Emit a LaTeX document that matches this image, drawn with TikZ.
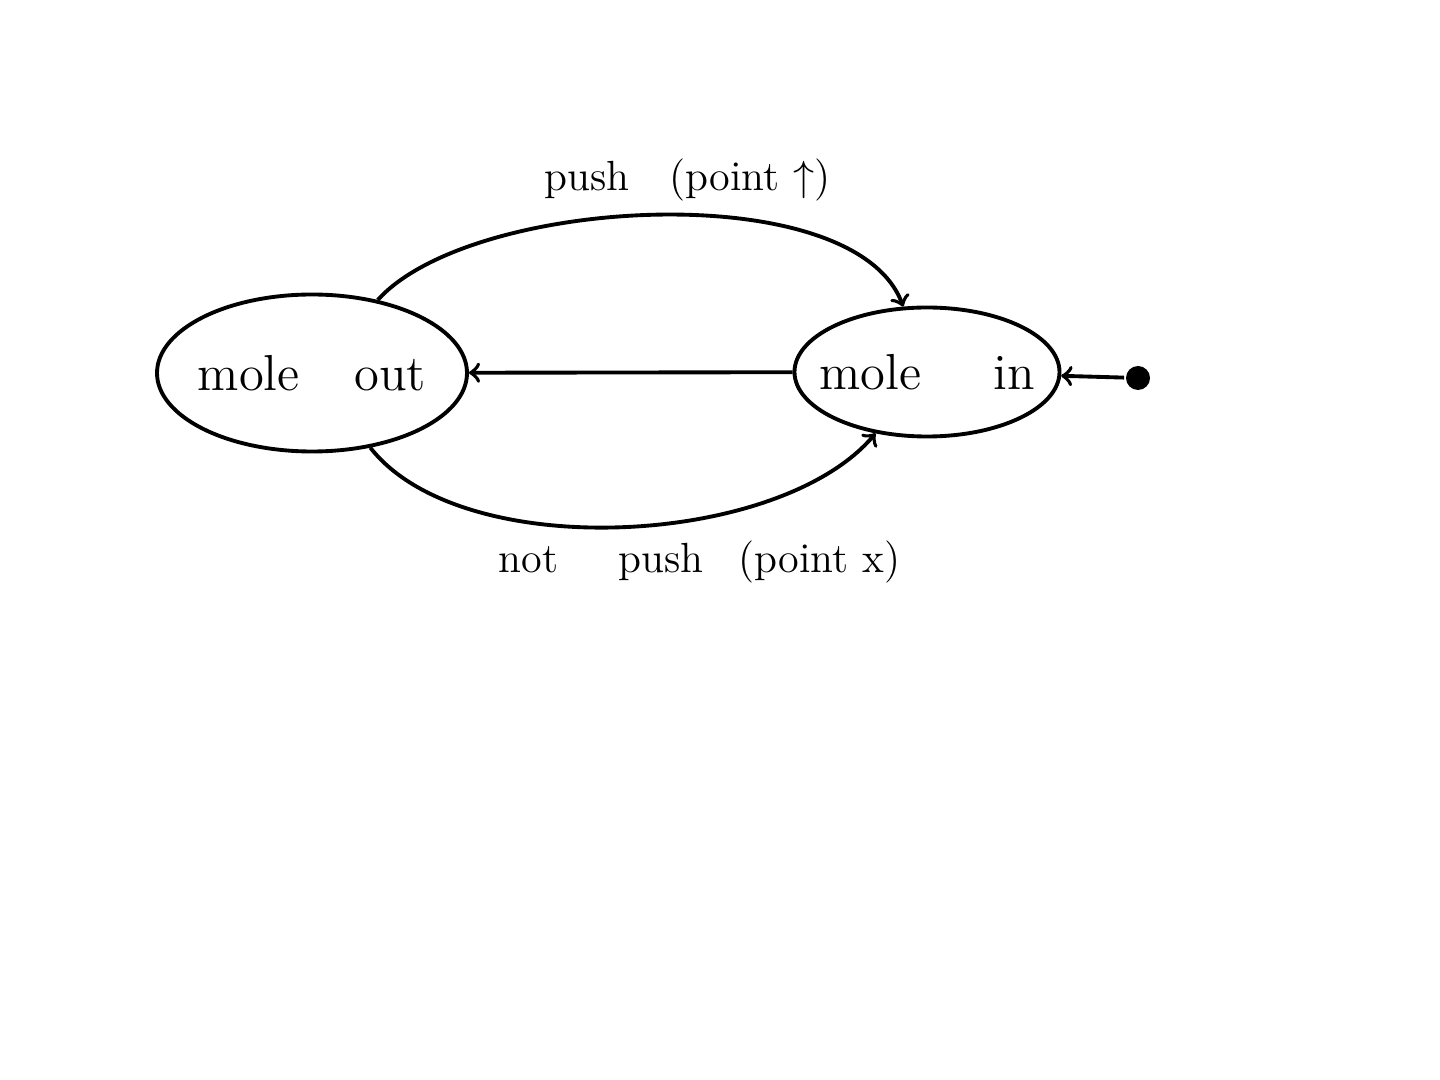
\documentclass[tikz,border=0pt]{standalone}
\usepackage{tikz}
\usetikzlibrary{calc,positioning,shapes,arrows}

\begin{document}
\begin{tikzpicture}[line width=1.1pt,font=\Large]
\useasboundingbox (0,0) rectangle (14.4,-10.8);
\node(pseudo) at (11.38,-3.78) [shape=circle,fill,inner sep=0pt,minimum size=0.24cm]{};
\node(out) at (3.12,-3.73) [shape=ellipse,draw,inner sep=0pt,inner xsep=-0.08cm,minimum width=3.1cm,minimum height=1.57cm] {mole\hspace{0.55cm}out};
\node(in) at (9.27,-3.72) [shape=ellipse,draw,inner sep=0pt,inner xsep=-0.15cm,minimum width=2.65cm,minimum height=1.29cm] {mole\hspace{0.72cm}in};
\path [->]
(pseudo) edge (in)
(in) edge (out)
(out) edge [out=48,in=110,looseness=0.68] node [above,xshift=0.3cm,font=\large] {push\hspace{0.4cm}(point $\uparrow$)} (in)
(out) edge [out=-52,in=-130,looseness=0.75] node [below,xshift=0.78cm,font=\large] {not\hspace{0.6cm}push\hspace{0.35cm}(point x)} (in);
\end{tikzpicture}
\end{document}
